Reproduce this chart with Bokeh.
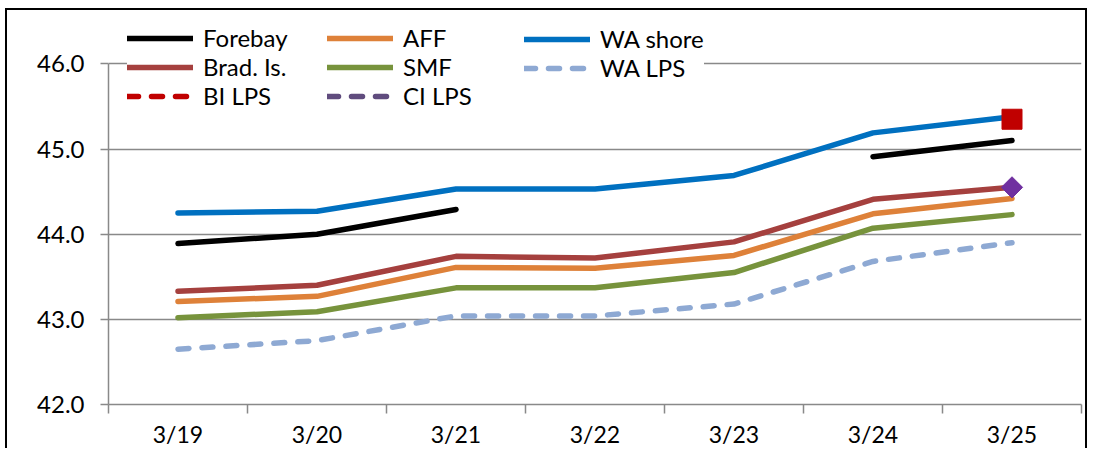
import numpy as np
from bokeh.plotting import figure
from bokeh.models import (Range1d, FixedTicker, NumeralTickFormatter, Legend, LegendItem)
from bokeh.embed import file_html
from bokeh.resources import INLINE

# ---------------- data ----------------
dates = ["3/19", "3/20", "3/21", "3/22", "3/23", "3/24", "3/25"]
nan = float("nan")
forebay  = [43.89, 44.00, 44.29, nan, nan, 44.91, 45.10]
aff      = [43.21, 43.27, 43.61, 43.60, 43.75, 44.24, 44.42]
wa_shore = [44.25, 44.27, 44.53, 44.53, 44.69, 45.19, 45.38]
brad_is  = [43.33, 43.40, 43.74, 43.72, 43.91, 44.41, 44.55]
smf      = [43.02, 43.09, 43.37, 43.37, 43.55, 44.07, 44.23]
wa_lps   = [42.65, 42.75, 43.04, 43.04, 43.18, 43.68, 43.90]
bi_lps   = [nan, nan, nan, nan, nan, nan, 45.35]
ci_lps   = [nan, nan, nan, nan, nan, nan, 44.55]
y_ticks = [42, 43, 44, 45, 46]

FONT = "Lato"
GRAY = "#898989"

n = len(dates)
# category slot centres (each date occupies one unit-wide slot)
xc = [i + 0.5 for i in range(n)]

# the frame reaches up to the chart-area top so the legend (which sits above
# the 46.0 line) is not clipped; the axis itself stops at 46.0
PX_PER_DEG = 85.0
FRAME_H = 393.3
y_end = y_ticks[0] + FRAME_H / PX_PER_DEG

p = figure(width=1082, height=440,
           x_range=Range1d(0, n),
           y_range=Range1d(y_ticks[0], y_end),
           output_backend="svg", toolbar_location=None,
           min_border_left=101, min_border_right=8,
           min_border_top=0, min_border_bottom=46,
           background_fill_color="white", border_fill_color="white")
p.outline_line_color = None
p.styles = {"margin-top": "8px", "margin-left": "5px",
            "border-top": "2px solid black", "border-left": "2px solid black",
            "border-right": "2px solid black"}

# x axis: boundary ticks (minor) and centred date labels (major)
xaxis = p.xaxis[0]
xaxis.ticker = FixedTicker(ticks=xc, minor_ticks=list(range(n + 1)))
xaxis.major_label_overrides = {c: d for c, d in zip(xc, dates)}
xaxis.major_tick_out = 0
xaxis.major_tick_in = 0
xaxis.major_tick_line_color = None
xaxis.minor_tick_out = 9
xaxis.minor_tick_in = 0
xaxis.minor_tick_line_color = GRAY
xaxis.minor_tick_line_width = 1.5
xaxis.axis_line_color = GRAY
xaxis.axis_line_width = 1.5
xaxis.major_label_standoff = 6
xaxis.major_label_text_font = FONT
xaxis.major_label_text_font_size = "23px"
xaxis.major_label_text_color = "black"

# y axis
ya = p.yaxis[0]
ya.ticker = FixedTicker(ticks=y_ticks)
ya.bounds = (y_ticks[0], y_ticks[-1])
ya.formatter = NumeralTickFormatter(format="0.0")
ya.major_tick_out = 8
ya.major_tick_in = 0
ya.minor_tick_line_color = None
ya.major_tick_line_color = GRAY
ya.major_tick_line_width = 1.5
ya.axis_line_color = GRAY
ya.axis_line_width = 1.5
ya.major_label_standoff = 16
ya.major_label_text_font = FONT
ya.major_label_text_font_size = "24px"
ya.major_label_text_color = "black"

p.xgrid.visible = False
p.ygrid.grid_line_color = GRAY
p.ygrid.grid_line_width = 1.5

LW = 5.5
common = dict(line_width=LW, line_cap="round", line_join="round")
r_fb = p.line(xc, forebay, line_color="#000000", **common)
r_aff = p.line(xc, aff, line_color="#DE8139", **common)
r_wa = p.line(xc, wa_shore, line_color="#0070C0", **common)
r_br = p.line(xc, brad_is, line_color="#A5403E", **common)
r_smf = p.line(xc, smf, line_color="#77933C", **common)
r_wal = p.line(xc, wa_lps, line_color="#8EA9D3", line_dash="11 13", **common)
r_bi = p.line(xc, bi_lps, line_color="#C00000", line_dash="11 13", **common)
r_ci = p.line(xc, ci_lps, line_color="#604C7E", line_dash="11 13", **common)

p.scatter(xc, bi_lps, marker="square", size=20, fill_color="#C00000",
          line_color="#C00000")
p.scatter(xc, ci_lps, marker="square", size=15, angle=np.pi / 4,
          fill_color="#7030A0", line_color="#7030A0")

leg_style = dict(orientation="horizontal", glyph_width=66, glyph_height=28,
                 label_height=28, label_standoff=10, spacing=0,
                 label_text_font=FONT, label_text_font_size="24px",
                 label_text_color="black", border_line_color=None,
                 background_fill_color="white", background_fill_alpha=1.0)

leg1 = Legend(items=[LegendItem(label="Forebay", renderers=[r_fb]),
                     LegendItem(label="AFF", renderers=[r_aff]),
                     LegendItem(label="Brad. Is.", renderers=[r_br]),
                     LegendItem(label="SMF", renderers=[r_smf]),
                     LegendItem(label="BI LPS", renderers=[r_bi]),
                     LegendItem(label="CI LPS", renderers=[r_ci])],
              ncols=2, label_width=124, padding=20, location=(19, 294),
              **leg_style)
leg2 = Legend(items=[LegendItem(label="WA shore", renderers=[r_wa]),
                     LegendItem(label="WA LPS", renderers=[r_wal])],
              ncols=1, label_width=40, padding=10, location=(416, 322),
              **leg_style)
p.add_layout(leg1)
p.add_layout(leg2)

open("out.html", "w").write(file_html(p, INLINE))
